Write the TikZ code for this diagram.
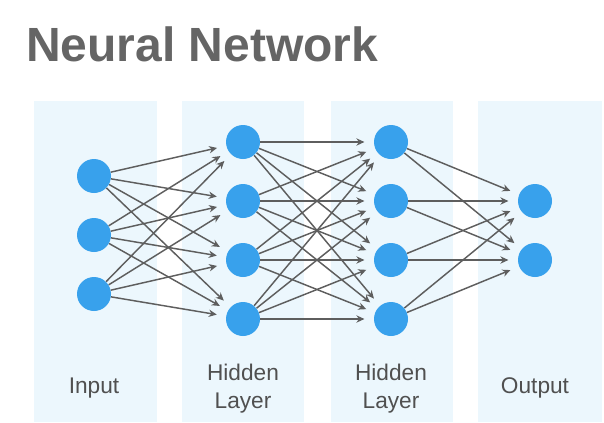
\documentclass[tikz,border=0pt]{standalone}
\usepackage{fontspec}
\setmainfont{Liberation Sans}
\usetikzlibrary{arrows.meta}
\definecolor{panelblue}{HTML}{ECF7FD}
\definecolor{nodeblue}{HTML}{38A1EC}
\definecolor{linegray}{HTML}{5E5E5E}
\definecolor{textgray}{HTML}{505050}
\definecolor{titlegray}{HTML}{656565}
\begin{document}
\begin{tikzpicture}[x=0.75pt,y=-0.75pt,
	neuron/.style={circle, fill=nodeblue, minimum size=25.5pt, inner sep=0pt},
	link/.style={draw=linegray, line width=1.1pt, -{Stealth[length=6pt,width=5.5pt]}, shorten >=7pt},
	lbl/.style={text=textgray, font=\fontsize{17}{21}\selectfont, align=center, anchor=base}]
	\useasboundingbox (0,0) rectangle (604,422);
	% columns
	\foreach \a/\b in {34/157,182/304,331/453,478/602} {
		\fill[panelblue] (\a,101) rectangle (\b,422);
	}
	\node[text=titlegray, font=\fontsize{36}{36}\selectfont\bfseries, anchor=base west, inner sep=0pt] (title) at (26,61) {Neural Network};
	% neurons
	\foreach \y [count=\i] in {176,235,294} {
		\node[neuron] (n1\i) at (94,\y) {};
	}
	\foreach \y [count=\i] in {142,201,260,319} {
		\node[neuron] (n2\i) at (243,\y) {};
		\node[neuron] (n3\i) at (391,\y) {};
	}
	\foreach \y [count=\i] in {201,260} {
		\node[neuron] (n4\i) at (535,\y) {};
	}
	% links
	\foreach \a in {1,2,3} {
		\foreach \b in {1,...,4} {
			\draw[link] (n1\a) -- (n2\b);
		}
	}
	\foreach \a in {1,...,4} {
		\foreach \b in {1,...,4} {
			\draw[link] (n2\a) -- (n3\b);
		}
		\foreach \b in {1,2} {
			\draw[link] (n3\a) -- (n4\b);
		}
	}
	% layer names
	\node[lbl] (l1) at (94,393) {Input};
	\node[lbl] (l2) at (243,408) {Hidden\\Layer};
	\node[lbl] (l3) at (391,408) {Hidden\\Layer};
	\node[lbl] (l4) at (535,393) {Output};
\end{tikzpicture}
\end{document}
